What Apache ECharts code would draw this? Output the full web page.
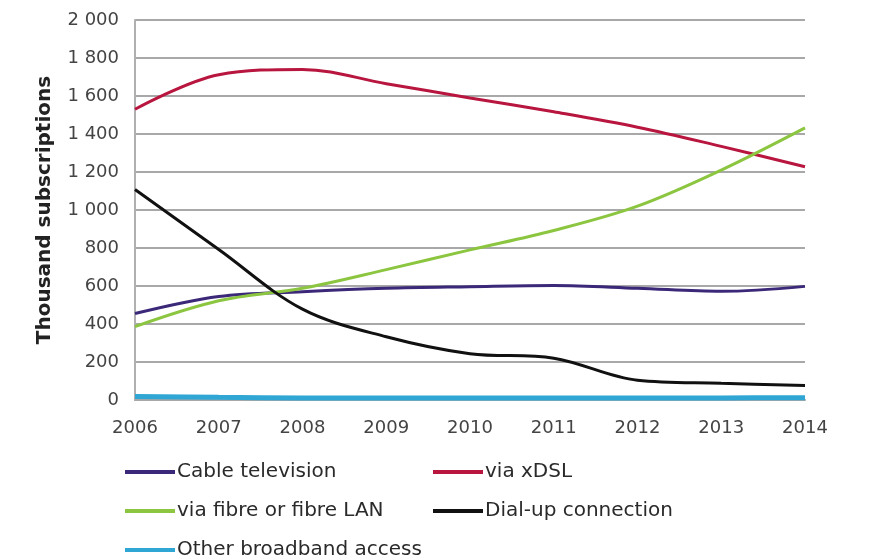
<!DOCTYPE html>
<html>
<head>
<meta charset="utf-8">
<script src="https://cdn.jsdelivr.net/npm/echarts@6/dist/echarts.min.js"></script>
<style>
  html, body { margin: 0; padding: 0; background: #fff; }
  #chart { width: 888px; height: 560px; }
</style>
</head>
<body>
<div id="chart"></div>
<script>
// Broadband and dial-up subscriptions, thousands
const years = ['2006', '2007', '2008', '2009', '2010', '2011', '2012', '2013', '2014'];
const cableTv = [455, 545, 570, 588, 596, 602, 588, 572, 598];
const xdsl = [1530, 1712, 1740, 1665, 1590, 1517, 1436, 1335, 1228];
const fibre = [386, 522, 588, 686, 790, 892, 1020, 1210, 1432];
const dialUp = [1108, 792, 478, 333, 244, 220, 104, 88, 76];
const otherBroadband = [18, 14, 11, 10, 10, 10, 10, 11, 12];

const seriesNames = ['Cable television', 'via xDSL', 'via fibre or fibre LAN', 'Dial-up connection', 'Other broadband access'];
const seriesColors = ['#3b2878', '#b8163f', '#8cc640', '#111111', '#2fa6d4'];
const seriesData = [cableTv, xdsl, fibre, dialUp, otherBroadband];

const FONT = "'DejaVu Sans', Verdana, sans-serif";

const chart = echarts.init(document.getElementById('chart'));

// two-column legend, one component per entry
const legendSpots = [
  { left: 125, top: 462 },
  { left: 433, top: 462 },
  { left: 125, top: 501 },
  { left: 433, top: 501 },
  { left: 125, top: 540 }
];

chart.setOption({
  backgroundColor: '#ffffff',
  animation: false,
  textStyle: { fontFamily: FONT },
  grid: { left: 135, right: 83, top: 20, bottom: 160 },
  legend: seriesNames.map((name, i) => ({
    data: [name],
    left: legendSpots[i].left,
    top: legendSpots[i].top,
    icon: 'rect',
    itemWidth: 50,
    itemHeight: 4,
    itemGap: 0,
    padding: 0,
    textStyle: { fontFamily: FONT, fontSize: 20, color: '#2a2a2a', padding: [0, 0, 0, -3] }
  })),
  xAxis: {
    type: 'category',
    data: years,
    boundaryGap: false,
    axisLine: { show: true, lineStyle: { color: '#a8a8a8', width: 2 } },
    axisTick: { show: false },
    axisLabel: { fontFamily: FONT, fontSize: 18, color: '#444', margin: 19 },
    splitLine: { show: false }
  },
  yAxis: {
    type: 'value',
    min: 0,
    max: 2000,
    interval: 200,
    name: 'Thousand subscriptions',
    nameLocation: 'middle',
    nameGap: 80,
    nameTextStyle: { fontFamily: FONT, fontSize: 20, fontWeight: 'bold', color: '#222' },
    axisLine: { show: true, lineStyle: { color: '#b0b0b0', width: 2 } },
    axisTick: { show: false },
    axisLabel: {
      fontFamily: FONT, fontSize: 18, color: '#444', margin: 16,
      formatter: v => String(v).replace(/\B(?=(\d{3})+(?!\d))/g, ' ')
    },
    splitLine: { show: true, lineStyle: { color: '#a8a8a8', width: 2 } }
  },
  series: seriesNames.map((name, i) => ({
    name: name,
    type: 'line',
    data: seriesData[i],
    smooth: 0.35,
    symbol: 'none',
    color: seriesColors[i],
    lineStyle: { width: i === 4 ? 5 : 3, color: seriesColors[i] },
    z: i === 4 ? 1 : 2
  }))
});
</script>
</body>
</html>
